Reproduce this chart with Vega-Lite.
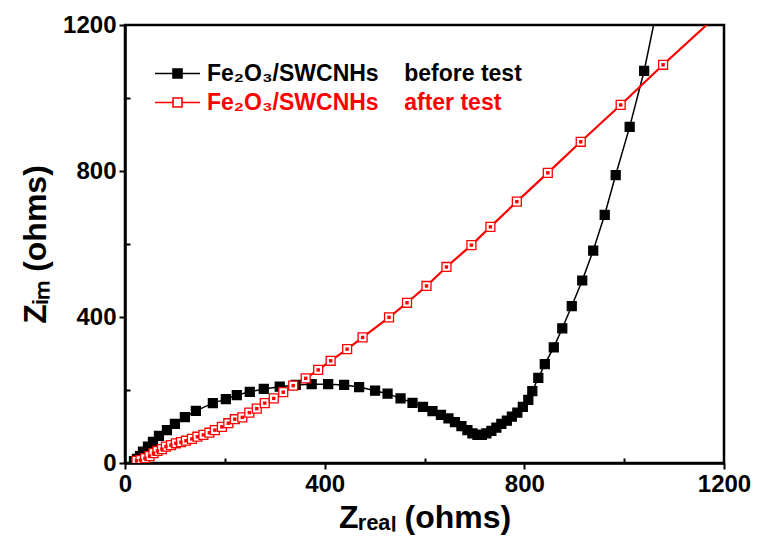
{
  "$schema": "https://vega.github.io/schema/vega-lite/v6.json",
  "width": 599,
  "height": 438,
  "autosize": "none",
  "padding": {"left": 125, "top": 25, "right": 34, "bottom": 89},
  "background": "white",
  "config": {
    "view": {"stroke": "black", "strokeWidth": 2.5},
    "font": "Liberation Sans",
    "axis": {
      "grid": false,
      "domainColor": "black",
      "domainWidth": 2.5,
      "tickColor": "black",
      "tickWidth": 2,
      "labelFont": "Liberation Sans",
      "labelFontSize": 24,
      "labelFontWeight": "bold",
      "labelColor": "black",
      "labelFlush": false,
      "labelPadding": 3,
      "titleFont": "Liberation Sans",
      "titleFontSize": 32,
      "titleFontWeight": "bold",
      "titleColor": "black"
    },
    "legend": {
      "orient": "none", "legendX": 41, "legendY": 37, "title": null,
      "symbolType": "M-5,0H-1.1M1.1,0H5M-1,-1H1V1H-1Z",
      "symbolSize": 81, "symbolStrokeWidth": 1.6,
      "labelFont": "Liberation Sans", "labelFontSize": 23, "labelFontWeight": "bold",
      "labelOffset": 18, "rowPadding": 5, "labelLimit": 500
    }
  },
  "data": {
    "values": [
      {"s": "before", "x": 18, "y": 5}, {"s": "before", "x": 24, "y": 11}, {"s": "before", "x": 30, "y": 19},
      {"s": "before", "x": 36, "y": 31}, {"s": "before", "x": 46, "y": 45}, {"s": "before", "x": 56, "y": 58},
      {"s": "before", "x": 68, "y": 74}, {"s": "before", "x": 84, "y": 90}, {"s": "before", "x": 100, "y": 107},
      {"s": "before", "x": 120, "y": 126}, {"s": "before", "x": 142, "y": 143}, {"s": "before", "x": 176, "y": 164},
      {"s": "before", "x": 202, "y": 175}, {"s": "before", "x": 224, "y": 186}, {"s": "before", "x": 250, "y": 195},
      {"s": "before", "x": 278, "y": 203}, {"s": "before", "x": 310, "y": 209}, {"s": "before", "x": 342, "y": 214},
      {"s": "before", "x": 374, "y": 216}, {"s": "before", "x": 407, "y": 216}, {"s": "before", "x": 439, "y": 214},
      {"s": "before", "x": 469, "y": 208}, {"s": "before", "x": 501, "y": 198}, {"s": "before", "x": 526, "y": 190},
      {"s": "before", "x": 552, "y": 177}, {"s": "before", "x": 576, "y": 165}, {"s": "before", "x": 597, "y": 154},
      {"s": "before", "x": 616, "y": 142}, {"s": "before", "x": 633, "y": 132}, {"s": "before", "x": 648, "y": 122},
      {"s": "before", "x": 661, "y": 112}, {"s": "before", "x": 674, "y": 101}, {"s": "before", "x": 686, "y": 90},
      {"s": "before", "x": 696, "y": 81}, {"s": "before", "x": 706, "y": 77}, {"s": "before", "x": 715, "y": 77},
      {"s": "before", "x": 724, "y": 81}, {"s": "before", "x": 734, "y": 88}, {"s": "before", "x": 744, "y": 97},
      {"s": "before", "x": 754, "y": 107}, {"s": "before", "x": 765, "y": 116}, {"s": "before", "x": 775, "y": 127},
      {"s": "before", "x": 786, "y": 138}, {"s": "before", "x": 797, "y": 154}, {"s": "before", "x": 808, "y": 173},
      {"s": "before", "x": 816, "y": 197}, {"s": "before", "x": 828, "y": 233}, {"s": "before", "x": 841, "y": 271},
      {"s": "before", "x": 859, "y": 317}, {"s": "before", "x": 876, "y": 369}, {"s": "before", "x": 895, "y": 430},
      {"s": "before", "x": 916, "y": 500}, {"s": "before", "x": 938, "y": 582}, {"s": "before", "x": 961, "y": 680},
      {"s": "before", "x": 983, "y": 789}, {"s": "before", "x": 1011, "y": 921}, {"s": "before", "x": 1040, "y": 1074},
      {"s": "before", "x": 1068, "y": 1260},
      {"s": "after", "x": 23, "y": 6}, {"s": "after", "x": 31, "y": 8}, {"s": "after", "x": 40, "y": 13},
      {"s": "after", "x": 49, "y": 19}, {"s": "after", "x": 57, "y": 27}, {"s": "after", "x": 65, "y": 33},
      {"s": "after", "x": 74, "y": 38}, {"s": "after", "x": 82, "y": 45}, {"s": "after", "x": 92, "y": 49},
      {"s": "after", "x": 102, "y": 54}, {"s": "after", "x": 112, "y": 57}, {"s": "after", "x": 122, "y": 61},
      {"s": "after", "x": 134, "y": 66}, {"s": "after", "x": 145, "y": 72}, {"s": "after", "x": 157, "y": 77},
      {"s": "after", "x": 169, "y": 83}, {"s": "after", "x": 180, "y": 90}, {"s": "after", "x": 194, "y": 99},
      {"s": "after", "x": 207, "y": 109}, {"s": "after", "x": 220, "y": 120}, {"s": "after", "x": 235, "y": 125},
      {"s": "after", "x": 249, "y": 138}, {"s": "after", "x": 264, "y": 149}, {"s": "after", "x": 280, "y": 164},
      {"s": "after", "x": 298, "y": 177}, {"s": "after", "x": 317, "y": 194}, {"s": "after", "x": 337, "y": 212},
      {"s": "after", "x": 362, "y": 232}, {"s": "after", "x": 387, "y": 255}, {"s": "after", "x": 412, "y": 280},
      {"s": "after", "x": 445, "y": 312}, {"s": "after", "x": 476, "y": 344}, {"s": "after", "x": 529, "y": 399},
      {"s": "after", "x": 565, "y": 439}, {"s": "after", "x": 604, "y": 485}, {"s": "after", "x": 644, "y": 537},
      {"s": "after", "x": 694, "y": 597}, {"s": "after", "x": 732, "y": 647}, {"s": "after", "x": 785, "y": 716},
      {"s": "after", "x": 847, "y": 795}, {"s": "after", "x": 913, "y": 880}, {"s": "after", "x": 993, "y": 981},
      {"s": "after", "x": 1078, "y": 1091}, {"s": "after", "x": 1185, "y": 1225}
    ]
  },
  "encoding": {
    "x": {
      "field": "x", "type": "quantitative",
      "scale": {"domain": [0, 1200], "nice": false, "zero": false},
      "axis": {
        "title": "Zᵣₑₐₗ (ohms)",
        "values": [0, 200, 400, 600, 800, 1000, 1200],
        "format": "d",
        "labelExpr": "datum.value % 400 == 0 ? datum.label : ''",
        "tickSize": {"condition": {"test": "datum.value % 400 != 0", "value": -5}, "value": 6},
        "titlePadding": 6
      }
    },
    "y": {
      "field": "y", "type": "quantitative",
      "scale": {"domain": [0, 1200], "nice": false, "zero": false},
      "axis": {
        "title": "Zᵢₘ (ohms)",
        "values": [0, 200, 400, 600, 800, 1000, 1200],
        "format": "d",
        "labelExpr": "datum.value % 400 == 0 ? datum.label : ''",
        "tickSize": {"condition": {"test": "datum.value % 400 != 0", "value": -5}, "value": 6},
        "titlePadding": 10
      }
    },
    "stroke": {
      "field": "s", "type": "nominal",
      "scale": {"domain": ["before", "after"], "range": ["black", "#ff0000"]},
      "legend": {
        "labelExpr": "datum.value == 'before' ? 'Fe₂O₃/SWCNHs\u00a0\u00a0\u00a0\u00a0before test' : 'Fe₂O₃/SWCNHs\u00a0\u00a0\u00a0\u00a0after test'",
        "labelColor": {"expr": "datum.value == 'after' ? '#ff0000' : 'black'"},
        "encoding": {"labels": {"fill": {"condition": {"test": "datum.value == 'after'", "value": "#ff0000"}, "value": "black"}}}
      }
    }
  },
  "layer": [
    {
      "transform": [{"filter": "datum.s == 'before'"}],
      "mark": {"type": "line", "clip": true, "strokeWidth": 1.5}
    },
    {
      "transform": [{"filter": "datum.s == 'after'"}],
      "mark": {"type": "line", "clip": true, "strokeWidth": 2.2}
    },
    {
      "mark": {"type": "point", "shape": "square", "size": 80, "strokeWidth": 1.3, "opacity": 1, "fillOpacity": 1, "clip": true},
      "encoding": {
        "fill": {
          "field": "s", "type": "nominal",
          "scale": {"domain": ["before", "after"], "range": ["black", "white"]},
          "legend": {
            "labelExpr": "datum.value == 'before' ? 'Fe₂O₃/SWCNHs\u00a0\u00a0\u00a0\u00a0before test' : 'Fe₂O₃/SWCNHs\u00a0\u00a0\u00a0\u00a0after test'",
            "labelColor": {"expr": "datum.value == 'after' ? '#ff0000' : 'black'"},
            "encoding": {"labels": {"fill": {"condition": {"test": "datum.value == 'after'", "value": "#ff0000"}, "value": "black"}}}
          }
        }
      }
    },
    {
      "transform": [{"filter": "datum.s == 'after'"}],
      "mark": {"type": "point", "shape": "square", "size": 2, "filled": true, "color": "#ff0000", "opacity": 1, "clip": true},
      "encoding": {"stroke": {"value": "#ff0000"}}
    }
  ]
}
